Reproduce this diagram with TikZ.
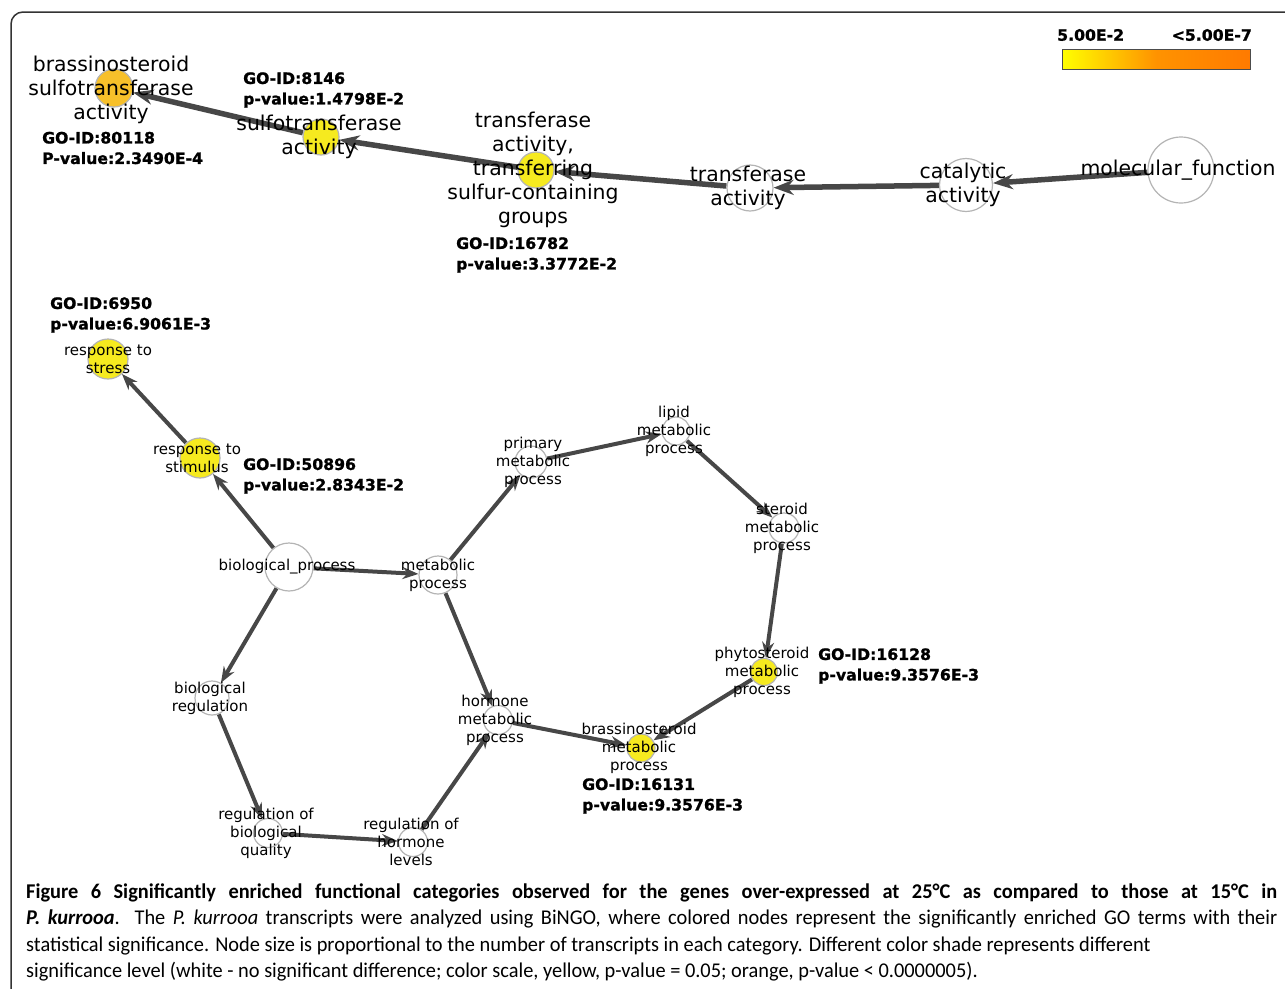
\documentclass[tikz,border=0pt]{standalone}
\usepackage{fontspec}
\setmainfont{DejaVu Sans}
\newfontfamily\capfont[FakeStretch=0.97]{Carlito}
\newfontfamily\statfont[FakeBold=1.2]{DejaVu Sans Bold}
\usetikzlibrary{arrows.meta,backgrounds}
\definecolor{goyellow}{HTML}{F6EA1F}
\definecolor{goorange}{HTML}{F7C02A}
\definecolor{edgegray}{HTML}{474747}
\definecolor{rimgray}{HTML}{B4B4B4}
\definecolor{barorange}{HTML}{FF7A00}

\begin{document}
\begin{tikzpicture}[x=1pt, y=-1pt,
    term/.style  = {circle, draw=rimgray, line width=1.2pt, fill=white,
                    inner sep=0pt},
    sig/.style   = {term, fill=goyellow},
    big/.style   = {align=center, font=\fontsize{20.4}{24}\selectfont},
    small/.style = {align=center, font=\fontsize{15}{18}\selectfont},
    stat/.style  = {anchor=west, align=left, inner sep=0pt,
                    font=\statfont\fontsize{15.7}{20.5}\selectfont},
    isa/.style   = {-{Stealth[length=20pt,width=15pt]}, line width=5.5pt, edgegray},
    isasm/.style = {-{Stealth[length=16pt,width=12pt]}, line width=4pt, edgegray},
]
  \useasboundingbox (0,0) rectangle (1285,988);
  \clip (0,0) rectangle (1285,988);
  \draw[line width=1.5pt, black!80, rounded corners=12pt] (11,12) rectangle (1320,1020);

  % molecular function branch
  \node[term, minimum size=66pt] (molfun) at (1181,170)
      [label={[big, xshift=-3pt]center:molecular\_function}] {};
  \node[term, minimum size=53pt] (catact) at (966,185)
      [label={[big, xshift=-3pt]center:{catalytic\\activity}}] {};
  \node[term, minimum size=46pt] (tract) at (750,188)
      [label={[big, xshift=-2pt]center:{transferase\\activity}}] {};
  \node[sig, minimum size=36pt] (trsulf) at (536,170)
      [label={[big, xshift=-3pt]center:{transferase\\activity,\\transferring\\sulfur-containing\\groups}}] {};
  \node[sig, minimum size=36pt] (sulfo) at (321,137)
      [label={[big, xshift=-2pt]center:{sulfotransferase\\activity}}] {};
  \node[sig, fill=goorange, minimum size=38pt] (bsulfo) at (114,88)
      [label={[big, xshift=-3pt, yshift=-2pt]center:{brassinosteroid\\sulfotransferase\\activity}}] {};

  \node[stat] (st80118) at (42,148)  {GO-ID:80118\\P-value:2.3490E-4};
  \node[stat] (st8146)  at (243,90)  {GO-ID:8146\\p-value:1.4798E-2};
  \node[stat] (st16782) at (456,255) {GO-ID:16782\\p-value:3.3772E-2};

  % biological process branch
  \node[term, minimum size=48pt] (biopro) at (289,567)
      [label={[small, xshift=-2pt]center:biological\_process}] {};
  \node[sig, minimum size=40pt] (stimul) at (200,458)
      [label={[small, xshift=-3pt]center:{response to\\stimulus}}] {};
  \node[sig, minimum size=40pt] (stress) at (108,359)
      [label={[small]center:{response to\\stress}}] {};
  \node[term, minimum size=38pt] (metab) at (438,575)
      [label={[small]center:{metabolic\\process}}] {};
  \node[term, minimum size=32pt] (prim) at (531,462)
      [label={[small, xshift=2pt]center:{primary\\metabolic\\process}}] {};
  \node[term, minimum size=28pt] (lipid) at (676,431)
      [label={[small, xshift=-2pt]center:{lipid\\metabolic\\process}}] {};
  \node[term, minimum size=30pt] (ster) at (784,528)
      [label={[small, xshift=-2pt]center:{steroid\\metabolic\\process}}] {};
  \node[sig, minimum size=27pt] (phyto) at (764,672)
      [label={[small, xshift=-2pt]center:{phytosteroid\\metabolic\\process}}] {};
  \node[sig, minimum size=28pt] (bmetab) at (641,748)
      [label={[small, xshift=-2pt]center:{brassinosteroid\\metabolic\\process}}] {};
  \node[term, minimum size=29pt] (hormet) at (498,720)
      [label={[small, xshift=-3pt]center:{hormone\\metabolic\\process}}] {};
  \node[term, minimum size=34pt] (bioreg) at (212,698)
      [label={[small, xshift=-2pt]center:{biological\\regulation}}] {};
  \node[term, minimum size=29pt] (rbq) at (268,833)
      [label={[small, xshift=-2pt]center:{regulation of\\biological\\quality}}] {};
  \node[term, minimum size=29pt] (rhl) at (413,842)
      [label={[small, xshift=-2pt]center:{regulation of\\hormone\\levels}}] {};

  \node[stat] (st6950)  at (50,315)  {GO-ID:6950\\p-value:6.9061E-3};
  \node[stat] (st50896) at (243,476) {GO-ID:50896\\p-value:2.8343E-2};
  \node[stat] (st16128) at (818,666) {GO-ID:16128\\p-value:9.3576E-3};
  \node[stat] (st16131) at (582,796) {GO-ID:16131\\p-value:9.3576E-3};

  % is-a links
  \begin{scope}[on background layer]
    \draw[isa] (molfun) -- (catact);
    \draw[isa] (catact) -- (tract);
    \draw[isa] (tract) -- (trsulf);
    \draw[isa] (trsulf) -- (sulfo);
    \draw[isa] (sulfo) -- (bsulfo);

    \draw[isasm] (stimul) -- (stress);
    \draw[isasm] (biopro) -- (stimul);
    \draw[isasm] (biopro) -- (metab);
    \draw[isasm] (biopro) -- (bioreg);
    \draw[isasm] (metab) -- (prim);
    \draw[isasm] (metab) -- (hormet);
    \draw[isasm] (prim) -- (lipid);
    \draw[isasm] (lipid) -- (ster);
    \draw[isasm] (ster) -- (phyto);
    \draw[isasm] (phyto) -- (bmetab);
    \draw[isasm] (hormet) -- (bmetab);
    \draw[isasm] (bioreg) -- (rbq);
    \draw[isasm] (rbq) -- (rhl);
    \draw[isasm] (rhl) -- (hormet);
  \end{scope}

  % colour scale
  \shade[left color=yellow, right color=barorange, middle color=orange!85!yellow]
      (1062,49) rectangle (1250,69);
  \draw[black!70, line width=0.8pt] (1062,49) rectangle (1250,69);
  \node[stat] (scalelo) at (1057,35) {5.00E-2};
  \node[stat, anchor=east] (scalehi) at (1252,35) {<5.00E-7};

  % caption
  \node[anchor=north west, inner sep=0pt, text width=1251pt, align=justify,
        font=\capfont\fontsize{21}{26.5}\selectfont] (caption) at (26,883.5)
    {{\bfseries Figure 6 Significantly enriched functional categories observed for the genes over-expressed at 25°C as compared to those at 15°C in}\linebreak
     {\bfseries\itshape P. kurrooa}. The \textit{P. kurrooa} transcripts were analyzed using BiNGO, where colored nodes represent the significantly enriched GO terms with their\linebreak
     statistical significance. Node size is proportional to the number of transcripts in each category. Different color shade represents different\newline
     significance level (white - no significant difference; color scale, yellow, p-value = 0.05; orange, p-value < 0.0000005).};
\end{tikzpicture}
\end{document}
